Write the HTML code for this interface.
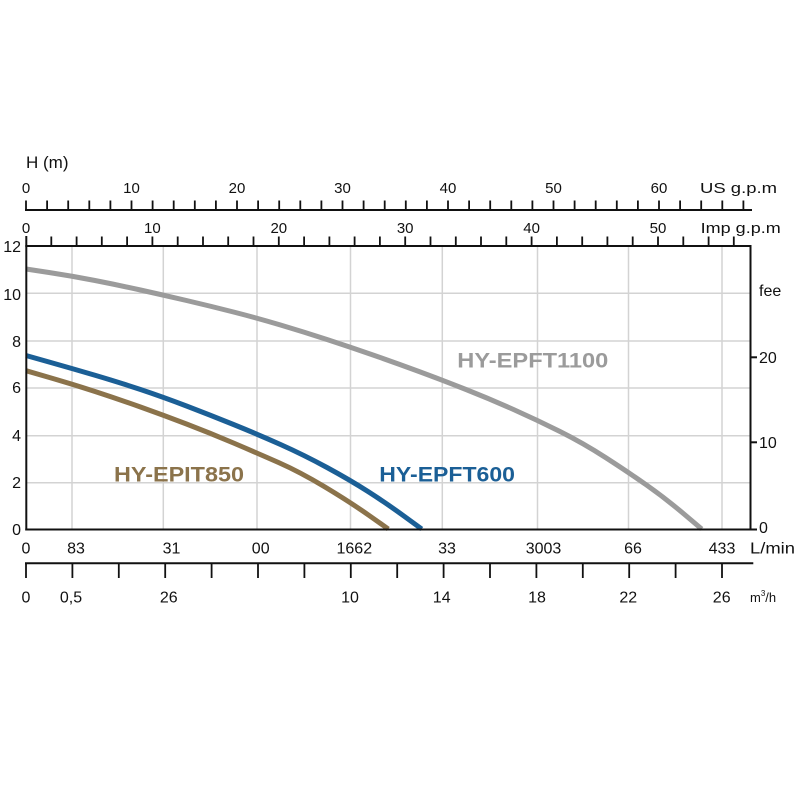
<!DOCTYPE html>
<html>
<head>
<meta charset="utf-8">
<style>
  html,body{margin:0;padding:0;background:#fff;}
  svg{display:block;}
  text{font-family:"Liberation Sans",Arial,sans-serif;fill:#111;}
</style>
</head>
<body>
<svg width="800" height="800" viewBox="0 0 800 800" xmlns="http://www.w3.org/2000/svg">
  <rect width="800" height="800" fill="#fff"/>

  <!-- grid -->
  <g stroke="#d3d3d3" stroke-width="1.5" fill="none">
    <line x1="26" y1="293.3" x2="750.5" y2="293.3"/>
    <line x1="26" y1="341" x2="750.5" y2="341"/>
    <line x1="26" y1="388" x2="750.5" y2="388"/>
    <line x1="26" y1="435.7" x2="750.5" y2="435.7"/>
    <line x1="26" y1="482.7" x2="750.5" y2="482.7"/>
    <line x1="72" y1="246" x2="72" y2="529.5"/>
    <line x1="163.3" y1="246" x2="163.3" y2="529.5"/>
    <line x1="257" y1="246" x2="257" y2="529.5"/>
    <line x1="350.5" y1="246" x2="350.5" y2="529.5"/>
    <line x1="442.3" y1="246" x2="442.3" y2="529.5"/>
    <line x1="537.5" y1="246" x2="537.5" y2="529.5"/>
    <line x1="628.5" y1="246" x2="628.5" y2="529.5"/>
    <line x1="722" y1="246" x2="722" y2="529.5"/>
  </g>

  <!-- curves -->
  <g fill="none" stroke-width="5" stroke-linejoin="round" stroke-linecap="butt">
    <path stroke="#9b9b9b" d="M26,269 L49,272.5 Q72,276 95,280.5 Q118,285 140.5,290 Q163,295 186.5,300.5 Q210,306 233.5,312 Q257,318 280.5,325 Q304,332 327,339.5 Q350,347 373,355 Q396,363 419,371.5 Q442,380 466,389.5 Q490,399 513.5,409.5 Q537,420 560,431.5 Q583,443 605.5,457.5 Q628,472 646.5,485 Q665,498 683.35,513.5 L701.7,529"/>
    <path stroke="#1b5f96" d="M26,355.5 L49,362 Q72,368.5 95,375.25 Q118,382 140.5,389.5 Q163,397 186.5,406 Q210,415 233.5,424.5 Q257,434 280.5,444.5 Q304,455 327,467.5 Q350,480 368,491.5 Q386,503 403.85,516 L421.7,529"/>
    <path stroke="#8b734b" d="M26,370.7 L49,377.35 Q72,384 95,391.5 Q118,399 140.5,407 Q163,415 186.5,424 Q210,433 233.5,443 Q257,453 278.5,462.5 Q300,472 325,487 Q350,502 369.15,515.5 L388.3,529"/>
  </g>

  <!-- plot frame -->
  <g stroke="#111" stroke-width="2" fill="none">
    <line x1="26.3" y1="236" x2="26.3" y2="530.5"/>
    <line x1="25.3" y1="529.5" x2="751.5" y2="529.5"/>
    <line x1="750.5" y1="246" x2="750.5" y2="530.5"/>
    <line x1="25.3" y1="246" x2="751.5" y2="246"/>
    <line x1="750.5" y1="529.5" x2="757" y2="529.5"/>
    <line x1="750.5" y1="442.3" x2="757" y2="442.3"/>
    <line x1="750.5" y1="357.3" x2="757" y2="357.3"/>
  </g>

  <!-- US gpm axis -->
  <g stroke="#111" stroke-width="2" fill="none">
    <line x1="25" y1="210" x2="752" y2="210"/>
  </g>
  <g stroke="#111" stroke-width="1.8">
    <line x1="26" y1="200.5" x2="26" y2="210"/>
    <line x1="47.1" y1="200.5" x2="47.1" y2="210"/>
    <line x1="68.2" y1="200.5" x2="68.2" y2="210"/>
    <line x1="89.3" y1="200.5" x2="89.3" y2="210"/>
    <line x1="110.4" y1="200.5" x2="110.4" y2="210"/>
    <line x1="131.5" y1="200.5" x2="131.5" y2="210"/>
    <line x1="152.6" y1="200.5" x2="152.6" y2="210"/>
    <line x1="173.7" y1="200.5" x2="173.7" y2="210"/>
    <line x1="194.8" y1="200.5" x2="194.8" y2="210"/>
    <line x1="215.9" y1="200.5" x2="215.9" y2="210"/>
    <line x1="237" y1="200.5" x2="237" y2="210"/>
    <line x1="258.1" y1="200.5" x2="258.1" y2="210"/>
    <line x1="279.2" y1="200.5" x2="279.2" y2="210"/>
    <line x1="300.3" y1="200.5" x2="300.3" y2="210"/>
    <line x1="321.4" y1="200.5" x2="321.4" y2="210"/>
    <line x1="342.5" y1="200.5" x2="342.5" y2="210"/>
    <line x1="363.6" y1="200.5" x2="363.6" y2="210"/>
    <line x1="384.7" y1="200.5" x2="384.7" y2="210"/>
    <line x1="405.8" y1="200.5" x2="405.8" y2="210"/>
    <line x1="426.9" y1="200.5" x2="426.9" y2="210"/>
    <line x1="448" y1="200.5" x2="448" y2="210"/>
    <line x1="469.1" y1="200.5" x2="469.1" y2="210"/>
    <line x1="490.2" y1="200.5" x2="490.2" y2="210"/>
    <line x1="511.3" y1="200.5" x2="511.3" y2="210"/>
    <line x1="532.4" y1="200.5" x2="532.4" y2="210"/>
    <line x1="553.5" y1="200.5" x2="553.5" y2="210"/>
    <line x1="574.6" y1="200.5" x2="574.6" y2="210"/>
    <line x1="595.7" y1="200.5" x2="595.7" y2="210"/>
    <line x1="616.8" y1="200.5" x2="616.8" y2="210"/>
    <line x1="637.9" y1="200.5" x2="637.9" y2="210"/>
    <line x1="659" y1="200.5" x2="659" y2="210"/>
    <line x1="680.1" y1="200.5" x2="680.1" y2="210"/>
    <line x1="701.2" y1="200.5" x2="701.2" y2="210"/>
    <line x1="722.3" y1="200.5" x2="722.3" y2="210"/>
    <line x1="743.4" y1="200.5" x2="743.4" y2="210"/>
  </g>

  <!-- Imp gpm ticks -->
  <g stroke="#111" stroke-width="1.8">
    <line x1="51.3" y1="236.5" x2="51.3" y2="246"/>
    <line x1="76.6" y1="236.5" x2="76.6" y2="246"/>
    <line x1="101.8" y1="236.5" x2="101.8" y2="246"/>
    <line x1="127.1" y1="236.5" x2="127.1" y2="246"/>
    <line x1="152.4" y1="236.5" x2="152.4" y2="246"/>
    <line x1="177.7" y1="236.5" x2="177.7" y2="246"/>
    <line x1="203" y1="236.5" x2="203" y2="246"/>
    <line x1="228.2" y1="236.5" x2="228.2" y2="246"/>
    <line x1="253.5" y1="236.5" x2="253.5" y2="246"/>
    <line x1="278.8" y1="236.5" x2="278.8" y2="246"/>
    <line x1="304.1" y1="236.5" x2="304.1" y2="246"/>
    <line x1="329.4" y1="236.5" x2="329.4" y2="246"/>
    <line x1="354.6" y1="236.5" x2="354.6" y2="246"/>
    <line x1="379.9" y1="236.5" x2="379.9" y2="246"/>
    <line x1="405.2" y1="236.5" x2="405.2" y2="246"/>
    <line x1="430.5" y1="236.5" x2="430.5" y2="246"/>
    <line x1="455.8" y1="236.5" x2="455.8" y2="246"/>
    <line x1="481" y1="236.5" x2="481" y2="246"/>
    <line x1="506.3" y1="236.5" x2="506.3" y2="246"/>
    <line x1="531.6" y1="236.5" x2="531.6" y2="246"/>
    <line x1="556.9" y1="236.5" x2="556.9" y2="246"/>
    <line x1="582.2" y1="236.5" x2="582.2" y2="246"/>
    <line x1="607.4" y1="236.5" x2="607.4" y2="246"/>
    <line x1="632.7" y1="236.5" x2="632.7" y2="246"/>
    <line x1="658" y1="236.5" x2="658" y2="246"/>
    <line x1="683.3" y1="236.5" x2="683.3" y2="246"/>
    <line x1="708.6" y1="236.5" x2="708.6" y2="246"/>
    <line x1="733.8" y1="236.5" x2="733.8" y2="246"/>
  </g>

  <!-- m3/h axis -->
  <g stroke="#111" stroke-width="2">
    <line x1="25" y1="563.3" x2="753.3" y2="563.3"/>
  </g>
  <g stroke="#111" stroke-width="1.8">
    <line x1="26" y1="563.3" x2="26" y2="578"/>
    <line x1="72.4" y1="563.3" x2="72.4" y2="578"/>
    <line x1="118.8" y1="563.3" x2="118.8" y2="578"/>
    <line x1="165.2" y1="563.3" x2="165.2" y2="578"/>
    <line x1="211.6" y1="563.3" x2="211.6" y2="578"/>
    <line x1="258" y1="563.3" x2="258" y2="578"/>
    <line x1="304.4" y1="563.3" x2="304.4" y2="578"/>
    <line x1="350.8" y1="563.3" x2="350.8" y2="578"/>
    <line x1="397.2" y1="563.3" x2="397.2" y2="578"/>
    <line x1="443.6" y1="563.3" x2="443.6" y2="578"/>
    <line x1="490" y1="563.3" x2="490" y2="578"/>
    <line x1="536.4" y1="563.3" x2="536.4" y2="578"/>
    <line x1="582.8" y1="563.3" x2="582.8" y2="578"/>
    <line x1="629.2" y1="563.3" x2="629.2" y2="578"/>
    <line x1="675.6" y1="563.3" x2="675.6" y2="578"/>
    <line x1="722" y1="563.3" x2="722" y2="578"/>
  </g>

  <!-- title -->
  <text x="26" y="168" font-size="17">H (m)</text>

  <!-- US gpm labels -->
  <g font-size="15" text-anchor="middle">
    <text x="26" y="193">0</text>
    <text x="131.5" y="193">10</text>
    <text x="237" y="193">20</text>
    <text x="342.5" y="193">30</text>
    <text x="448" y="193">40</text>
    <text x="553.5" y="193">50</text>
    <text x="659" y="193">60</text>
  </g>
  <text x="700" y="193" font-size="15" textLength="77" lengthAdjust="spacingAndGlyphs">US g.p.m</text>

  <!-- Imp gpm labels -->
  <g font-size="15" text-anchor="middle">
    <text x="26" y="233">0</text>
    <text x="152.4" y="233">10</text>
    <text x="278.8" y="233">20</text>
    <text x="405.2" y="233">30</text>
    <text x="531.6" y="233">40</text>
    <text x="658" y="233">50</text>
  </g>
  <text x="700.7" y="233" font-size="15" textLength="80" lengthAdjust="spacingAndGlyphs">Imp g.p.m</text>

  <!-- left Y labels -->
  <g font-size="16" text-anchor="end">
    <text x="21" y="252">12</text>
    <text x="21" y="300">10</text>
    <text x="21" y="347">8</text>
    <text x="21" y="393">6</text>
    <text x="21" y="441">4</text>
    <text x="21" y="488">2</text>
    <text x="21" y="535">0</text>
  </g>

  <!-- right labels -->
  <g font-size="16">
    <text x="759" y="296">fee</text>
    <text x="759" y="363">20</text>
    <text x="759" y="448">10</text>
    <text x="759" y="533">0</text>
  </g>

  <!-- L/min labels -->
  <g font-size="16" text-anchor="middle">
    <text x="26" y="553.5">0</text>
    <text x="76" y="553.5">83</text>
    <text x="171.5" y="553.5">31</text>
    <text x="260.7" y="553.5">00</text>
    <text x="354.3" y="553.5">1662</text>
    <text x="447" y="553.5">33</text>
    <text x="543.5" y="553.5">3003</text>
    <text x="633" y="553.5">66</text>
    <text x="722" y="553.5">433</text>
  </g>
  <text x="750" y="553.5" font-size="16" textLength="45" lengthAdjust="spacingAndGlyphs">L/min</text>

  <!-- m3/h labels -->
  <g font-size="16" text-anchor="middle">
    <text x="26" y="602.5">0</text>
    <text x="71" y="602.5">0,5</text>
    <text x="168.8" y="602.5">26</text>
    <text x="350" y="602.5">10</text>
    <text x="441.7" y="602.5">14</text>
    <text x="537" y="602.5">18</text>
    <text x="628.3" y="602.5">22</text>
    <text x="721.7" y="602.5">26</text>
  </g>
  <text x="750" y="602" font-size="13">m<tspan font-size="8" dy="-6">3</tspan><tspan dy="6">/h</tspan></text>

  <!-- series labels -->
  <g font-size="21" font-weight="bold">
    <text x="114" y="481.7" style="fill:#8b734b" textLength="130" lengthAdjust="spacingAndGlyphs">HY-EPIT850</text>
    <text x="379.3" y="481.7" style="fill:#1b5f96" textLength="135.7" lengthAdjust="spacingAndGlyphs">HY-EPFT600</text>
    <text x="457.3" y="367.3" style="fill:#9b9b9b" textLength="151" lengthAdjust="spacingAndGlyphs">HY-EPFT1100</text>
  </g>
</svg>
</body>
</html>
